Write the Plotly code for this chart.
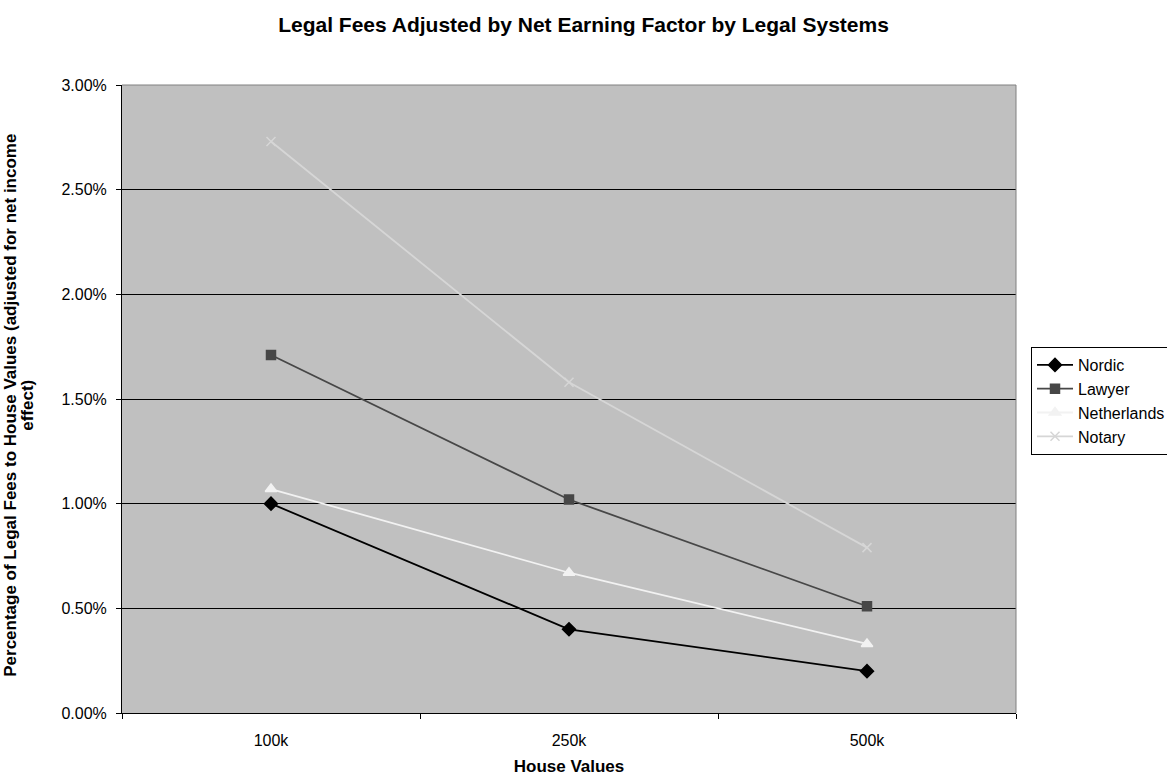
import plotly.graph_objects as go

# House value categories and fee percentages (net-income adjusted)
house_values = ["100k", "250k", "500k"]
nordic = [1.00, 0.40, 0.20]
lawyer = [1.71, 1.02, 0.51]
netherlands = [1.07, 0.67, 0.33]
notary = [2.73, 1.58, 0.79]

y_ticks = [0, 0.5, 1.0, 1.5, 2.0, 2.5, 3.0]
y_tick_labels = ["0.00%", "0.50%", "1.00%", "1.50%", "2.00%", "2.50%", "3.00%"]

y_title_lines = [
    "Percentage of Legal Fees to House Values (adjusted for net income",
    "effect)",
]

FONT = "Liberation Sans, Arial, sans-serif"

series = [
    ("Nordic", nordic, "#000000", "diamond", 10),
    ("Lawyer", lawyer, "#474747", "square", 9),
    ("Netherlands", netherlands, "#F2F2F2", "triangle-up", 10),
    ("Notary", notary, "#D6D6D6", "x-thin", 9),
]

fig = go.Figure()
for name, vals, color, symbol, size in series:
    fig.add_trace(go.Scatter(
        x=house_values, y=vals, name=name, mode="lines+markers",
        line=dict(color=color, width=1.8),
        marker=dict(symbol=symbol, size=size, color=color,
                    line=dict(color=color, width=1.5)),
    ))

fig.update_layout(
    width=1167, height=776,
    margin=dict(l=122, r=151, t=85, b=63),
    paper_bgcolor="white",
    plot_bgcolor="#C0C0C0",
    font=dict(family=FONT, size=16, color="black"),
    title=dict(
        text="<b>Legal Fees Adjusted by Net Earning Factor by Legal Systems</b>",
        x=0.5, xanchor="center", y=0.968, yanchor="middle",
        font=dict(family=FONT, size=21, color="black"),
    ),
    showlegend=True,
    legend=dict(
        xref="container", yref="container",
        x=1031 / 1167, xanchor="left", y=1 - 347 / 776, yanchor="top",
        bgcolor="white", bordercolor="black", borderwidth=1,
        font=dict(family=FONT, size=16, color="black"),
        tracegroupgap=0, itemwidth=36,
    ),
)

fig.update_xaxes(
    type="category", categoryorder="array", categoryarray=house_values,
    range=[-0.5, 2.5], automargin=False,
    showline=True, linecolor="black", linewidth=1,
    ticks="outside", tickson="boundaries", ticklen=5, tickcolor="black",
    showgrid=False, zeroline=False,
    tickfont=dict(family=FONT, size=16),
    ticklabelstandoff=13,
    title=dict(text="<b>House Values</b>", font=dict(family=FONT, size=17), standoff=12),
)
fig.update_yaxes(
    range=[0, 3.0], automargin=False,
    tickvals=y_ticks, ticktext=y_tick_labels,
    showline=True, linecolor="black", linewidth=1,
    ticks="outside", ticklen=5, tickcolor="black",
    showgrid=True, gridcolor="black", gridwidth=1,
    zeroline=False,
    tickfont=dict(family=FONT, size=16),
    ticklabelstandoff=6,
)

# Two-line rotated y-axis title with tight line spacing
for text, shift in zip(y_title_lines, [-111.5, -94.5]):
    fig.add_annotation(
        text=f"<b>{text}</b>", xref="paper", yref="paper",
        x=0, y=0.49, xshift=shift, xanchor="center", yanchor="middle",
        textangle=-90, showarrow=False,
        font=dict(family=FONT, size=17, color="black"),
    )

# Gray frame on the top and right edges of the plotting area
fig.add_shape(type="line", xref="paper", yref="paper", x0=0, x1=1, y0=1, y1=1,
              line=dict(color="#808080", width=1))
fig.add_shape(type="line", xref="paper", yref="paper", x0=1, x1=1, y0=0, y1=1,
              line=dict(color="#808080", width=1))

fig.write_html("out.html")
